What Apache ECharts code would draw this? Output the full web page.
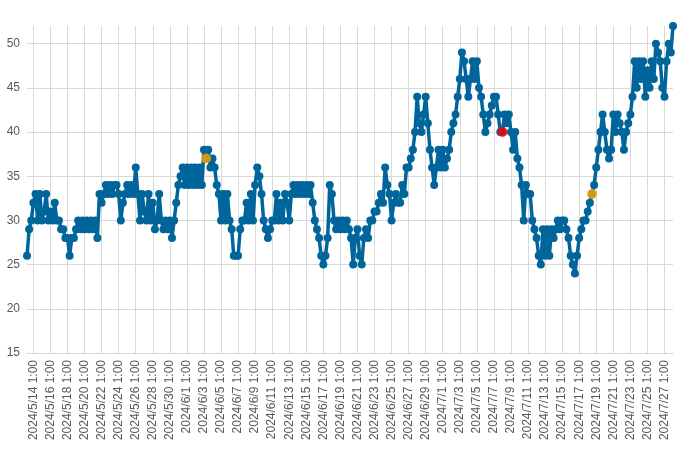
<!DOCTYPE html>
<html>
<head>
<meta charset="utf-8">
<script src="https://cdn.jsdelivr.net/npm/echarts@6/dist/echarts.min.js"></script>
<style>
html,body{margin:0;padding:0;background:#fff;}
#main{width:700px;height:451px;}
</style>
</head>
<body>
<div id="main"></div>
<script>
// 6-hourly readings, first reading 2024/5/13 7:00
const startTime = [2024, 5, 13, 7];
const stepHours = 6;

const values = [
26,29,30,32,33,30,33,30,31,33,30,31,30,32,30,30,29,29,28,28,
26,28,28,29,30,29,30,29,30,29,30,29,30,28,33,32,33,34,33,34,
33,34,34,33,30,32,33,34,33,34,33,36,33,30,33,31,30,33,30,32,
29,30,33,30,29,30,29,30,28,30,32,34,35,36,34,36,34,36,34,36,
34,36,34,38,37,38,36,37,36,34,33,30,33,30,33,30,29,26,26,26,
29,30,30,32,30,33,30,34,36,35,33,30,29,28,29,30,30,33,30,32,
30,33,32,30,33,34,33,34,33,34,33,34,33,34,32,30,29,28,26,25,
26,28,34,33,30,29,30,29,30,29,30,29,28,25,28,29,26,25,28,29,
28,30,30,31,31,32,33,32,36,34,33,30,32,33,32,32,34,33,36,36,
37,38,40,44,41,40,42,44,41,38,36,34,36,38,36,38,36,37,38,40,
41,42,44,46,49,48,46,44,46,48,46,48,45,44,42,40,41,42,43,44,
44,42,40,40,42,41,42,40,38,40,37,36,34,30,34,33,33,30,29,28,
26,25,29,26,29,26,29,28,29,30,29,30,30,29,28,26,25,24,26,28,
29,30,30,31,32,33,34,36,38,40,42,40,38,37,38,42,40,42,41,40,
38,40,41,42,44,48,45,48,46,48,44,47,45,48,46,50,49,48,45,44,
48,50,49,52
];

// highlighted readings: [index, value]
const orangePoints = [[84, 37], [265, 33]];
const redPoints = [[223, 40]];

const tickLabels = [
'2024/5/14 1:00','2024/5/16 1:00','2024/5/18 1:00','2024/5/20 1:00','2024/5/22 1:00',
'2024/5/24 1:00','2024/5/26 1:00','2024/5/28 1:00','2024/5/30 1:00','2024/6/1 1:00',
'2024/6/3 1:00','2024/6/5 1:00','2024/6/7 1:00','2024/6/9 1:00','2024/6/11 1:00',
'2024/6/13 1:00','2024/6/15 1:00','2024/6/17 1:00','2024/6/19 1:00','2024/6/21 1:00',
'2024/6/23 1:00','2024/6/25 1:00','2024/6/27 1:00','2024/6/29 1:00','2024/7/1 1:00',
'2024/7/3 1:00','2024/7/5 1:00','2024/7/7 1:00','2024/7/9 1:00','2024/7/11 1:00',
'2024/7/13 1:00','2024/7/15 1:00','2024/7/17 1:00','2024/7/19 1:00','2024/7/21 1:00',
'2024/7/23 1:00','2024/7/25 1:00','2024/7/27 1:00'
];

const yTicks = { min: 15, max: 52, interval: 5 };

// build category strings (timestamps of the readings)
const categories = [];
{
  const t0 = new Date(startTime[0], startTime[1] - 1, startTime[2], startTime[3], 0, 0);
  for (let i = 0; i < values.length; i++) {
    const d = new Date(t0.getTime() + i * stepHours * 3600 * 1000);
    categories.push(d.getFullYear() + '/' + (d.getMonth() + 1) + '/' + d.getDate() + ' ' + d.getHours() + ':00');
  }
}
const tickSet = new Set(tickLabels);
const showTick = (idx, val) => tickSet.has(val);

const chart = echarts.init(document.getElementById('main'), null, { renderer: 'canvas' });
chart.setOption({
  animation: false,
  backgroundColor: '#ffffff',
  grid: { left: 27, right: 27, top: 26, bottom: 98 },
  xAxis: {
    type: 'category',
    data: categories,
    boundaryGap: false,
    axisLine: { show: true, lineStyle: { color: '#d9d9d9', width: 1 } },
    axisTick: { show: false, interval: showTick },
    axisLabel: {
      interval: showTick,
      rotate: 90,
      margin: 7,
      color: '#595959',
      fontSize: 12,
      fontFamily: 'Liberation Sans, Arial, sans-serif'
    },
    splitLine: { show: true, interval: showTick, lineStyle: { color: '#d9d9d9', width: 1 } }
  },
  yAxis: {
    type: 'value',
    min: yTicks.min,
    max: yTicks.max,
    interval: yTicks.interval,
    axisLine: { show: false },
    axisTick: { show: false },
    axisLabel: {
      showMaxLabel: false,
      margin: 7,
      color: '#595959',
      fontSize: 12,
      fontFamily: 'Liberation Sans, Arial, sans-serif'
    },
    splitLine: { show: true, showMaxLine: false, lineStyle: { color: '#d9d9d9', width: 1 } }
  },
  series: [
    {
      type: 'line',
      data: values,
      showAllSymbol: true,
      symbol: 'circle',
      symbolSize: 8,
      lineStyle: { color: '#00659b', width: 3.5 },
      itemStyle: { color: '#00659b' },
      z: 2
    },
    {
      type: 'scatter',
      data: orangePoints,
      symbol: 'circle',
      symbolSize: 10,
      itemStyle: { color: '#ffa500' },
      z: 5
    },
    {
      type: 'scatter',
      data: redPoints,
      symbol: 'circle',
      symbolSize: 10,
      itemStyle: { color: '#ff0000' },
      z: 5
    }
  ]
});
</script>
</body>
</html>
